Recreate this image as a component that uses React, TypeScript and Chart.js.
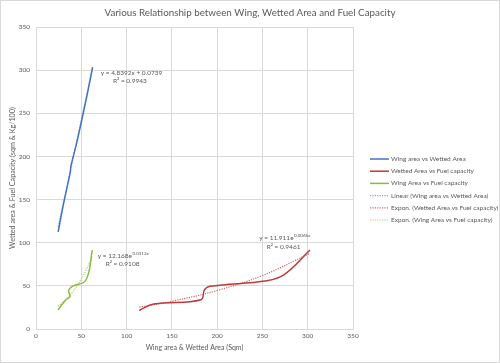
import React, { useEffect, useRef } from "react";
import { Chart, registerables } from "chart.js";

Chart.register(...registerables);

// Series 1: Wing area vs Wetted Area
const wingWetX = [24.5, 30, 37.9, 38.6, 45, 55, 62.5];
const wingWetY = [112.6, 143, 182, 189, 216, 264, 303.6];

// Series 2: Wetted Area vs Fuel capacity
const wetFuelX = [114, 130, 182, 186, 192, 255, 274, 302.5];
const wetFuelY = [21.5, 29, 34, 45.5, 49.5, 56, 63, 91.5];

// Series 3: Wing Area vs Fuel capacity
const wingFuelX = [24.3, 33, 37.5, 36, 40, 55, 62.2];
const wingFuelY = [22, 34, 37.5, 44.5, 49.5, 56.5, 91.5];

// Trendlines
const linWingWetX = [24.5, 62.5];
const linWingWetY = [118.6, 302.5];
const expWetFuelX = [114, 150, 200, 250, 302.5];
const expWetFuelY = [25.3, 32.1, 44.6, 62.0, 87.7];
const expWingFuelX = [24.3, 35, 45, 55, 62.2];
const expWingFuelY = [26, 36.3, 49.5, 67.7, 84.7];

const xTicks = [0, 50, 100, 150, 200, 250, 300, 350];
const yTicks = [0, 50, 100, 150, 200, 250, 300, 350];

const seriesLabels = [
  "Wing area vs Wetted Area",
  "Wetted Area vs Fuel capacity",
  "Wing Area vs Fuel capacity",
  "Linear (Wing area vs Wetted Area)",
  "Expon. (Wetted Area vs Fuel capacity)",
  "Expon. (Wing Area vs Fuel capacity)",
];

const titleText = "Various Relationship between Wing, Wetted Area and Fuel Capacity";
const xTitle = "Wing area & Wetted Area (Sqm)";
const yTitle = "Wetted area & Fuel Capacity (sqm & Kg/100)";

const FONT = "Lato, 'Liberation Sans', sans-serif";
const TXT = "#595959";
const GRID = "#d9d9d9";

const zip = (xs: number[], ys: number[]) => xs.map((x, i) => ({ x, y: ys[i] }));

const eqLabels = [
  { main: "y = 4.8392x + 0.0739", sup: "", r2: "R² = 0.9943", px: 100.7, py: 72.7, r2x: 113, r2y: 80.7 },
  { main: "y = 12.168e", sup: "0.0312x", r2: "R² = 0.9108", px: 97.7, py: 256.3, r2x: 105.7, r2y: 264 },
  { main: "y = 11.911e", sup: "0.0066x", r2: "R² = 0.9461", px: 259.3, py: 238.3, r2x: 266.7, r2y: 246.7 },
];

const borderPlugin = {
  id: "outerBorder",
  beforeDraw(chart: any) {
    const ctx = chart.ctx;
    ctx.save();
    ctx.fillStyle = "#ffffff";
    ctx.fillRect(0, 0, chart.width, chart.height);
    ctx.strokeStyle = GRID;
    ctx.lineWidth = 1;
    ctx.strokeRect(0.5, 0.5, chart.width - 1, chart.height - 1);
    ctx.fillStyle = TXT;
    ctx.textAlign = "center";
    ctx.textBaseline = "middle";
    ctx.font = `9.8px ${FONT}`;
    ctx.fillText(titleText, chart.width / 2, 12.5);
    ctx.restore();
  },
};

const extrasPlugin = {
  id: "extras",
  afterDraw(chart: any) {
    const ctx = chart.ctx;
    ctx.save();
    // equation labels
    ctx.fillStyle = TXT;
    ctx.textBaseline = "middle";
    ctx.textAlign = "left";
    eqLabels.forEach((e) => {
      ctx.font = `6.5px ${FONT}`;
      ctx.fillText(e.main, e.px, e.py);
      if (e.sup) {
        const w = ctx.measureText(e.main).width;
        ctx.font = `4.5px ${FONT}`;
        ctx.fillText(e.sup, e.px + w + 0.5, e.py - 2.5);
      }
      ctx.font = `6.5px ${FONT}`;
      ctx.fillText(e.r2, e.r2x, e.r2y);
    });
    // legend
    const ds = chart.data.datasets;
    const x0 = 370;
    const y0 = 159;
    const step = 12.2;
    ds.forEach((d: any, i: number) => {
      const y = y0 + i * step;
      ctx.strokeStyle = d.borderColor;
      ctx.lineWidth = d.borderWidth;
      ctx.setLineDash(d.borderDash || []);
      ctx.beginPath();
      ctx.moveTo(x0, y);
      ctx.lineTo(x0 + 19, y);
      ctx.stroke();
      ctx.setLineDash([]);
      ctx.fillStyle = TXT;
      ctx.font = `6.5px ${FONT}`;
      ctx.fillText(d.label, x0 + 21, y);
    });
    ctx.restore();
  },
};

export default function App() {
  const ref = useRef<HTMLCanvasElement>(null);
  useEffect(() => {
    if (!ref.current) return;
    const solid = (label: string, color: string, data: any) => ({
      label,
      data,
      borderColor: color,
      backgroundColor: color,
      borderWidth: 1.5,
      showLine: true,
      pointRadius: 0,
      tension: 0.4,
    });
    const dotted = (label: string, color: string, data: any) => ({
      label,
      data,
      borderColor: color,
      backgroundColor: color,
      borderWidth: 1.2,
      borderDash: [1.2, 1.2],
      showLine: true,
      pointRadius: 0,
      tension: 0.4,
    });
    const chart = new Chart(ref.current, {
      type: "scatter",
      data: {
        datasets: [
          solid(seriesLabels[0], "#4472C4", zip(wingWetX, wingWetY)),
          solid(seriesLabels[1], "#C0393B", zip(wetFuelX, wetFuelY)),
          solid(seriesLabels[2], "#8DB843", zip(wingFuelX, wingFuelY)),
          dotted(seriesLabels[3], "#7f9fd8", zip(linWingWetX, linWingWetY)),
          dotted(seriesLabels[4], "#d46a6a", zip(expWetFuelX, expWetFuelY)),
          dotted(seriesLabels[5], "#b5d17f", zip(expWingFuelX, expWingFuelY)),
        ] as any,
      },
      options: {
        animation: false,
        responsive: false,
        layout: { padding: { left: 0, right: 147, top: 27, bottom: 0 } },
        plugins: {
          legend: { display: false },
          tooltip: { enabled: false },
          title: { display: false },
        },
        scales: {
          x: {
            type: "linear",
            min: 0,
            max: 350,
            afterBuildTicks: (s: any) => {
              s.ticks = xTicks.map((v) => ({ value: v }));
            },
            afterFit: (s: any) => {
              s.height = 34;
            },
            grid: { color: GRID, drawTicks: false },
            border: { color: GRID },
            ticks: { color: TXT, font: { family: FONT, size: 6.5 }, padding: 3 },
            title: {
              display: true,
              text: xTitle,
              color: TXT,
              font: { family: FONT, size: 7 },
              padding: { top: 0, bottom: 11 },
            },
          },
          y: {
            type: "linear",
            min: 0,
            max: 350,
            afterBuildTicks: (s: any) => {
              s.ticks = yTicks.map((v) => ({ value: v }));
            },
            afterFit: (s: any) => {
              s.width = 36;
            },
            grid: { color: GRID, drawTicks: false },
            border: { color: GRID },
            ticks: { color: TXT, font: { family: FONT, size: 6.5 }, padding: 6 },
            title: {
              display: true,
              text: yTitle,
              color: TXT,
              font: { family: FONT, size: 7.2 },
              padding: { top: 8, bottom: 0 },
            },
          },
        },
      } as any,
      plugins: [borderPlugin, extrasPlugin],
    });
    return () => chart.destroy();
  }, []);
  return (
    <div style={{ position: "fixed", left: 0, top: 0, width: 500, height: 363 }}>
      <canvas ref={ref} width={500} height={363} />
    </div>
  );
}
